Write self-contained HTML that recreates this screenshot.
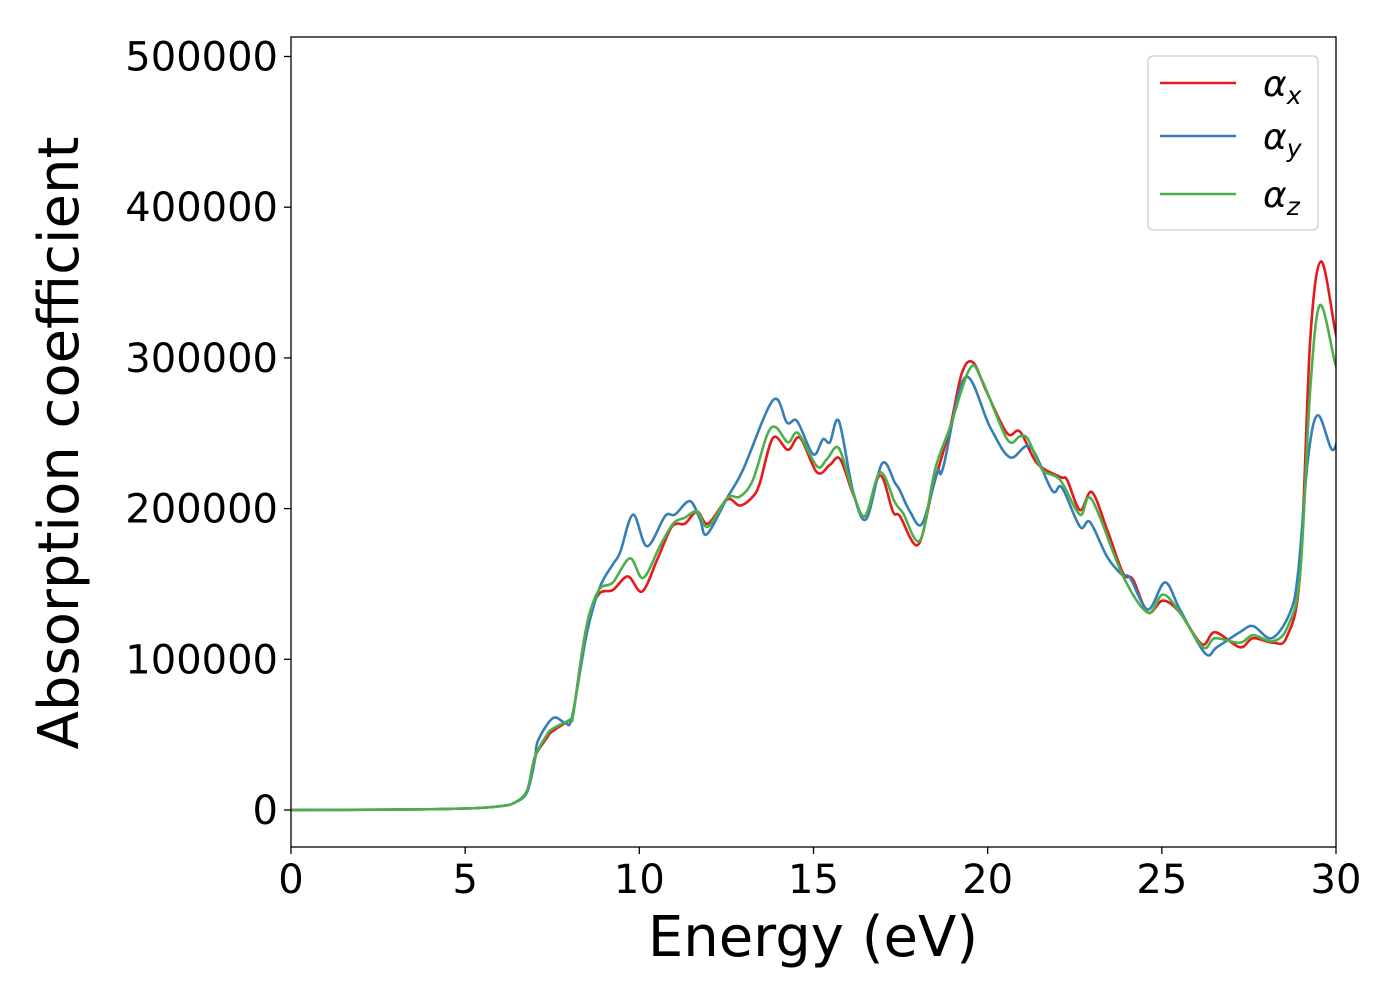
<!DOCTYPE html>
<html><head><meta charset="utf-8"><style>
html,body{margin:0;padding:0;background:#fff;}
svg{display:block;font-family:"DejaVu Sans","Liberation Sans",sans-serif;}
</style></head><body>
<svg id="chart" width="1400" height="1000" viewBox="0 0 1400 1000" xmlns="http://www.w3.org/2000/svg">
<rect x="0" y="0" width="1400" height="1000" fill="#fff"/>
<defs><clipPath id="plotclip"><rect x="291" y="37" width="1045" height="810"/></clipPath></defs>
<g id="series" clip-path="url(#plotclip)"></g>
<rect x="291" y="37" width="1045" height="810" fill="none" stroke="#000" stroke-width="1.3"/>
<g id="xticks"></g>
<g id="yticks"></g>
<text x="813" y="956" font-size="56" text-anchor="middle">Energy (eV)</text>
<text transform="translate(78,443) rotate(-90)" font-size="56" text-anchor="middle">Absorption coefficient</text>
<g>
<rect x="1148" y="56" width="170" height="174" rx="5" fill="#fff" stroke="#ccc" stroke-width="1.3"/>
<g><line x1="1160" y1="83" x2="1236" y2="83" stroke="#e41a1c" stroke-width="2.5"/><text x="1263" y="96" font-size="36" font-style="italic">α<tspan font-size="25" dy="8">x</tspan></text></g>
<g><line x1="1160" y1="136" x2="1236" y2="136" stroke="#377eb8" stroke-width="2.5"/><text x="1263" y="149" font-size="36" font-style="italic">α<tspan font-size="25" dy="8">y</tspan></text></g>
<g><line x1="1160" y1="194" x2="1236" y2="194" stroke="#4daf4a" stroke-width="2.5"/><text x="1263" y="207" font-size="36" font-style="italic">α<tspan font-size="25" dy="8">z</tspan></text></g>
</g>
</svg>
<script>
const xTicks = [0, 5, 10, 15, 20, 25, 30];
const yTicks = [0, 100000, 200000, 300000, 400000, 500000];
const xE = [0,3,5,6,6.43,6.78,7.0,7.35,7.49,8.01,8.10,8.38,8.58,8.87,9.24,9.67,10.08,10.51,10.88,11.08,11.31,11.66,11.97,12.52,12.89,13.26,13.46,13.84,14.27,14.61,15.10,15.47,15.76,16.13,16.48,16.91,17.28,17.48,18.00,18.43,18.92,19.26,19.58,19.98,20.56,20.93,21.42,22.08,22.28,22.65,22.99,23.43,23.89,24.17,24.60,25.03,25.52,26.15,26.53,27.24,27.62,28.19,28.59,28.97,29.26,29.57,29.97,30.1];
const xV = [0,0.3,1,2.5,5,13,35,48,52,60,64,108,131,144,146,155,145,166,186,190,190,198,190,206,202,208,217,247,239,247,224,229,233,210,195,222,198,195,176,214,254,290,297,277,250,251,230,221,219,199,211,186,157,153,131,139,131,110,118,108,114,111,115,157,312,364,319,305];
const yE = [0,3,5,6,6.43,6.78,7.0,7.09,7.52,7.87,8.07,8.50,8.87,9.24,9.45,9.82,10.22,10.74,11.02,11.45,11.74,11.94,12.52,12.98,13.84,14.24,14.53,14.99,15.27,15.47,15.73,16.13,16.51,16.97,17.34,17.48,17.77,18.12,18.55,18.72,19.35,20.07,20.64,21.22,21.85,22.13,22.65,22.94,23.43,23.86,24.09,24.60,25.09,25.52,26.24,26.58,27.24,27.62,28.16,28.68,28.91,29.20,29.48,29.89,30.1];
const yV = [0,0.3,1,2.5,5,12,33,46,61,58,62,118,148,163,171,196,175,195,196,205,193,183,207,226,272,257,258,236,246,244,258,212,193,230,217,212,198,190,224,227,287,254,234,241,212,214,188,191,168,156,154,133,151,133,104,108,118,122,114,131,157,234,262,239,252];
const zE = [0,3,5,6,6.43,6.78,7.0,7.35,7.52,8.01,8.10,8.38,8.58,8.87,9.24,9.73,10.11,10.59,10.97,11.31,11.66,11.97,12.52,12.89,13.26,13.67,13.92,14.27,14.56,15.10,15.39,15.73,16.13,16.48,16.91,17.34,17.57,18.06,18.49,18.92,19.49,19.84,20.56,20.93,21.16,21.56,22.08,22.65,22.99,23.89,24.60,25.03,25.52,26.18,26.53,27.24,27.62,28.19,28.62,28.97,29.26,29.54,29.97,30.1];
const zV = [0,0.3,1,2.5,5,13,35,50,54,60,63,108,131,147,151,167,154,175,190,194,198,188,207,208,219,249,254,244,250,228,233,240,211,195,224,204,197,179,226,254,293,285,246,248,246,226,219,196,206,155,131,143,131,108,114,111,116,112,122,157,279,335,297,290];

const X0=291, X1=1336, Y0=810, PXPER100K=150.7;
function xs(e){return X0+(e-0)/30*(X1-X0);}
function ys(v){return Y0 - v/100000*PXPER100K;}
const NS='http://www.w3.org/2000/svg';
function catmull(pts){
  let d='M'+pts[0][0].toFixed(2)+','+pts[0][1].toFixed(2);
  for(let i=0;i<pts.length-1;i++){
    const p0=pts[Math.max(0,i-1)],p1=pts[i],p2=pts[i+1],p3=pts[Math.min(pts.length-1,i+2)];
    const c1=[p1[0]+(p2[0]-p0[0])/6,p1[1]+(p2[1]-p0[1])/6];
    const c2=[p2[0]-(p3[0]-p1[0])/6,p2[1]-(p3[1]-p1[1])/6];
    d+='C'+c1[0].toFixed(2)+','+c1[1].toFixed(2)+' '+c2[0].toFixed(2)+','+c2[1].toFixed(2)+' '+p2[0].toFixed(2)+','+p2[1].toFixed(2);
  }
  return d;
}
const g=document.getElementById('series');
function drawLine(E,V,color,name){
  const pts=E.map((e,i)=>[xs(e),ys(V[i]*1000)]);
  const p=document.createElementNS(NS,'path');
  p.setAttribute('d',catmull(pts));
  p.setAttribute('fill','none');
  p.setAttribute('stroke',color);
  p.setAttribute('stroke-width','2.6');
  p.setAttribute('stroke-linejoin','round');
  
  
  g.appendChild(p);
}
drawLine(xE,xV,'#e41a1c','alpha-x-line');
drawLine(yE,yV,'#377eb8','alpha-y-line');
drawLine(zE,zV,'#4daf4a','alpha-z-line');

const gx=document.getElementById('xticks');
xTicks.forEach(t=>{
  const x=xs(t);
  const l=document.createElementNS(NS,'line');
  l.setAttribute('x1',x);l.setAttribute('x2',x);l.setAttribute('y1',847);l.setAttribute('y2',854);
  l.setAttribute('stroke','#000');l.setAttribute('stroke-width','1.3');
  
  
  gx.appendChild(l);
  const tx=document.createElementNS(NS,'text');
  tx.setAttribute('x',x);tx.setAttribute('y',893);tx.setAttribute('font-size','40');tx.setAttribute('text-anchor','middle');
  tx.textContent=String(t);
  
  
  gx.appendChild(tx);
});
const gy=document.getElementById('yticks');
yTicks.forEach(t=>{
  const y=ys(t);
  const l=document.createElementNS(NS,'line');
  l.setAttribute('x1',284);l.setAttribute('x2',291);l.setAttribute('y1',y);l.setAttribute('y2',y);
  l.setAttribute('stroke','#000');l.setAttribute('stroke-width','1.3');
  
  
  gy.appendChild(l);
  const tx=document.createElementNS(NS,'text');
  tx.setAttribute('x',278);tx.setAttribute('y',y+14);tx.setAttribute('font-size','40');tx.setAttribute('text-anchor','end');
  tx.textContent=String(t);
  
  
  gy.appendChild(tx);
});
</script>
</body></html>
